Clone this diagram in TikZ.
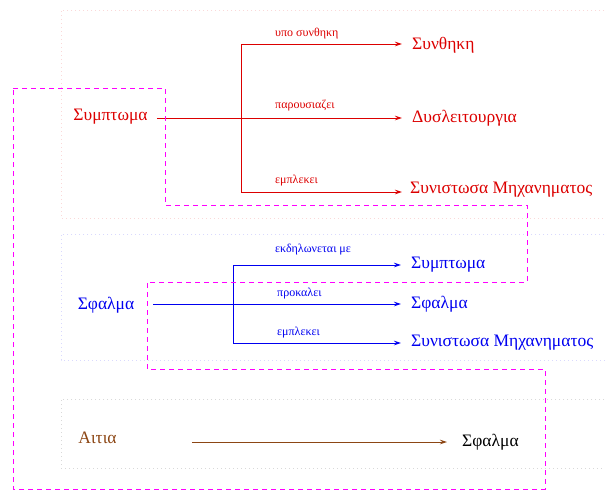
\documentclass[tikz,border=0pt]{standalone}
\usepackage{fontspec}
\setmainfont{Liberation Serif}
\usetikzlibrary{arrows.meta}
\definecolor{relred}{RGB}{220,0,0}
\definecolor{relblue}{RGB}{0,0,240}
\definecolor{relbrown}{RGB}{140,70,20}
\definecolor{grpmag}{RGB}{255,0,255}
\begin{document}
\begin{tikzpicture}[x=1pt,y=-1pt,
  concept/.style={inner sep=2pt,font=\fontsize{17.5}{20}\selectfont},
  rellabel/.style={anchor=base west,inner sep=0pt,font=\fontsize{12}{14}\selectfont},
  rel/.style={line width=0.8pt,shorten >=8pt,-{Stealth[length=7pt,width=4.5pt]}},
  bar/.style={line width=0.8pt},
  section/.style={line width=0.9pt,dash pattern=on 1pt off 3pt},
  group/.style={draw=grpmag,line width=1pt,dash pattern=on 5pt off 4pt}]
\useasboundingbox (0,0) rectangle (605,491);

% faint section frames (open on the right)
\draw[section,relred!15] (612,10) -- (61,10) -- (61,218) -- (612,218);
\draw[section,relblue!15] (612,234) -- (61,234) -- (61,360) -- (612,360);
\draw[section,black!15] (612,399) -- (61,399) -- (61,468) -- (612,468);

% Symptom relations
\begin{scope}[relred]
\node[concept,anchor=center] (symp) at (110.5,117) {Συμπτωμα};
\node[concept,anchor=west] (cond) at (410,45) {Συνθηκη};
\node[concept,anchor=west] (malf) at (410,118) {Δυσλειτουργια};
\node[concept,anchor=west] (comp1) at (408,190) {Συνιστωσα Μηχανηματος};
\coordinate (rsplit) at (241,118);
\draw[rel,shorten <=7pt] (symp.east |- rsplit) -- (malf.west |- rsplit);
\draw[bar] (rsplit |- 0,44) -- (rsplit |- 0,192);
\draw[rel] (rsplit |- 0,44) -- (cond.west |- 0,44);
\draw[rel,shorten >=6pt] (rsplit |- 0,192) -- (comp1.west |- 0,192);
\node[rellabel] (l11) at (275,36) {υπο συνθηκη};
\node[rellabel] (l12) at (275,108) {παρουσιαζει};
\node[rellabel] (l13) at (275,183) {εμπλεκει};
\end{scope}

% Fault relations
\begin{scope}[relblue]
\node[concept,anchor=center] (fault) at (106,305) {Σφαλμα};
\node[concept,anchor=west] (symp2) at (409,265) {Συμπτωμα};
\node[concept,anchor=west] (fault2) at (409,304) {Σφαλμα};
\node[concept,anchor=west] (comp2) at (409,343) {Συνιστωσα Μηχανηματος};
\coordinate (bsplit) at (233,304);
\draw[rel,shorten <=17pt] (fault.east |- bsplit) -- (fault2.west |- bsplit);
\draw[bar] (bsplit |- 0,265) -- (bsplit |- 0,343);
\draw[rel] (bsplit |- 0,265) -- (symp2.west |- 0,265);
\draw[rel] (bsplit |- 0,343) -- (comp2.west |- 0,343);
\node[rellabel] (l21) at (275,252) {εκδηλωνεται με};
\node[rellabel] (l22) at (277,296) {προκαλει};
\node[rellabel] (l23) at (277,335) {εμπλεκει};
\end{scope}

% Cause relation
\node[concept,anchor=center,text=relbrown] (cause) at (97.5,437.5) {Αιτια};
\node[concept,anchor=west] (fault3) at (460,442) {Σφαλμα};
\draw[rel,relbrown,shorten <=73pt,shorten >=13pt] (cause.east |- fault3.west) -- (fault3.west);

% grouping outline
\draw[group] (13,88) -- (165,88) -- (165,205) -- (527,205) -- (527,282)
  -- (147,282) -- (147,369) -- (545,369) -- (545,489) -- (13,489) -- cycle;
\end{tikzpicture}
\end{document}
